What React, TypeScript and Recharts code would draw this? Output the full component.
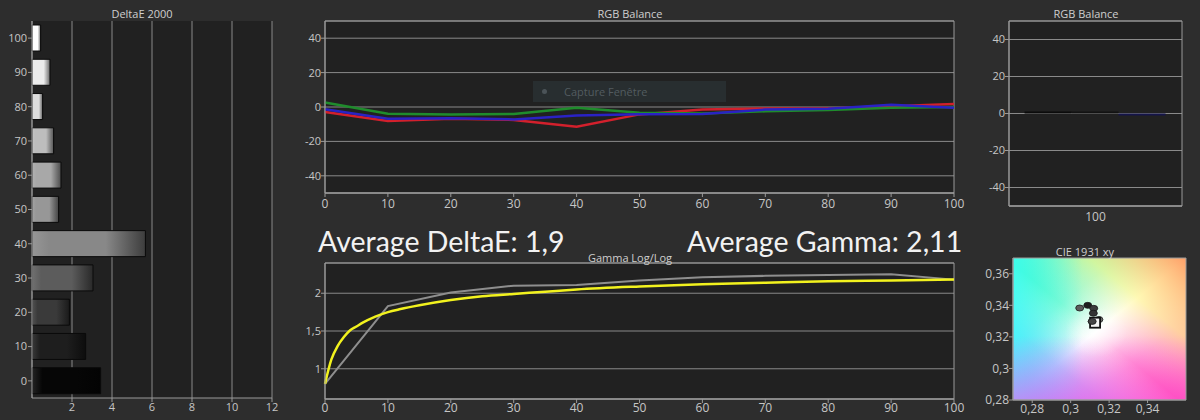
import React from 'react';
import {
  BarChart,
  Bar,
  Cell,
  LineChart,
  Line,
  ScatterChart,
  Scatter,
  XAxis,
  YAxis,
  CartesianGrid,
  ReferenceArea,
} from 'recharts';

// DeltaE 2000 per grey level (top to bottom)
const levels = ['100', '90', '80', '70', '60', '50', '40', '30', '20', '10', '0'];
const deltaE = [0.43, 0.9, 0.53, 1.08, 1.45, 1.33, 5.67, 3.05, 1.87, 2.68, 3.43];
const patchGray = ['#ffffff', '#ececec', '#dcdcdc', '#bdbdbd', '#a8a8a8', '#979797', '#888888', '#5c5c5c', '#3a3a3a', '#1e1e1e', '#060606'];
const deltaTicks = [2, 4, 6, 8, 10, 12];

// RGB balance
const stimulus = [0, 10, 20, 30, 40, 50, 60, 70, 80, 90, 100];
const redBal = [-2.9, -8.2, -6.8, -7.5, -11.5, -4.3, -1.4, -0.8, -0.8, 0.5, 1.8];
const greenBal = [2.6, -3.9, -4.3, -4.0, -0.4, -3.3, -3.8, -2.5, -1.8, -0.5, 0];
const blueBal = [-1.3, -6.8, -6.5, -7.2, -4.9, -4.2, -4.0, -1.5, -1.0, 1.3, -0.5];
const balTicks = [-40, -20, 0, 20, 40];

// RGB balance at 100%
const whiteCat = ['100'];
const whiteR = [1.0];
const whiteG = [0.3];
const whiteB = [-0.8];

// Gamma
const gammaMeasured = [0.8, 1.83, 2.01, 2.1, 2.11, 2.17, 2.21, 2.23, 2.24, 2.25, 2.18];
const gammaCurveX = [0, 1, 2, 3, 4, 5, 6, 8, 10, 12, 15, 20, 25, 30, 35, 40, 50, 60, 70, 80, 90, 100];
const gammaCurveY = [0.8, 1.12, 1.3, 1.42, 1.51, 1.56, 1.61, 1.69, 1.75, 1.79, 1.84, 1.91, 1.96, 1.99, 2.02, 2.05, 2.09, 2.12, 2.14, 2.16, 2.17, 2.18];
const gammaTicks = [1, 1.5, 2];

// CIE 1931 xy
const cieX = [0.3047, 0.3089, 0.312, 0.3118, 0.3147, 0.3112];
const cieY = [0.3383, 0.34, 0.3381, 0.335, 0.331, 0.3298];
const cieShade = ['#5c5c5c', '#1e1e1e', '#3c3c3c', '#333333', '#6a6a6a', '#444444'];
const targetX = [0.3127];
const targetY = [0.329];
const cieXTicks = [0.28, 0.3, 0.32, 0.34];
const cieYTicks = [0.28, 0.3, 0.32, 0.34, 0.36];

const font = "'Open Sans', 'Noto Sans', sans-serif";
const tickStyle = { fill: '#c6c6c6', fontSize: 11, fontFamily: font };
const axisColor = '#9a9a9a';
const gridColor = '#8a8a8a';
const plotBg = '#212121';

const comma = (v: number) => String(v).replace('.', ',');

function shade(hex: string, f: number) {
  const n = parseInt(hex.slice(1), 16);
  const ch = [(n >> 16) & 255, (n >> 8) & 255, n & 255].map((c) => {
    const v = f >= 0 ? c + (255 - c) * f : c * (1 + f);
    return Math.round(Math.max(0, Math.min(255, v)));
  });
  return '#' + ch.map((c) => c.toString(16).padStart(2, '0')).join('');
}

const deltaData = levels.map((level, i) => ({ level, de: deltaE[i] }));
const balData = stimulus.map((x, i) => ({ x, r: redBal[i], g: greenBal[i], b: blueBal[i] }));
const whiteData = whiteCat.map((cat, i) => ({ cat, r: whiteR[i], g: whiteG[i], b: whiteB[i] }));
const gammaData = stimulus.map((x, i) => ({ x, y: gammaMeasured[i] }));
const gammaCurve = gammaCurveX.map((x, i) => ({ x, y: gammaCurveY[i] }));
const cieData = cieX.map((x, i) => ({ x, y: cieY[i], c: cieShade[i] }));
const targetData = targetX.map((x, i) => ({ x, y: targetY[i] }));

function Title({ text, cx, y }: { text: string; cx: number; y: number }) {
  return (
    <div
      style={{
        position: 'absolute',
        left: cx - 100,
        top: y - 8,
        width: 200,
        textAlign: 'center',
        color: '#cfcfcf',
        fontSize: 11,
        fontFamily: font,
        lineHeight: '16px',
      }}
    >
      {text}
    </div>
  );
}

const Dot = (props: any) => {
  const { cx, cy, payload } = props;
  return <ellipse cx={cx} cy={cy} rx={4} ry={3} fill={payload.c} stroke="#1a1a1a" strokeWidth={0.8} />;
};

const Target = (props: any) => {
  const { cx, cy } = props;
  return <rect x={cx - 5} y={cy - 5} width={10} height={10} fill="#f4f4f4" stroke="#111" strokeWidth={1.8} />;
};

const bigText = {
  position: 'absolute' as const,
  top: 225,
  color: '#f2f2f2',
  fontSize: 28.5,
  lineHeight: '32px',
  fontFamily: "Lato, 'Open Sans', sans-serif",
  whiteSpace: 'nowrap' as const,
};

export default function App() {
  return (
    <div
      style={{
        position: 'absolute',
        left: 0,
        top: 0,
        width: 1200,
        height: 420,
        background: '#2d2d2d',
        overflow: 'hidden',
        fontFamily: font,
      }}
    >
      {/* DeltaE 2000 */}
      <div style={{ position: 'absolute', left: 0, top: 0 }}>
        <BarChart
          width={290}
          height={420}
          data={deltaData}
          layout="vertical"
          margin={{ top: 21, right: 18, bottom: 0, left: 0 }}
          barSize={26}
        >
          <defs>
            {patchGray.map((c, i) => (
              <linearGradient key={i} id={`de${i}`} x1="0" y1="0" x2="1" y2="0">
                <stop offset="0" stopColor={shade(c, 0.12)} />
                <stop offset="0.15" stopColor={c} />
                <stop offset="0.65" stopColor={c} />
                <stop offset="1" stopColor={shade(c, -0.55)} />
              </linearGradient>
            ))}
          </defs>
          <CartesianGrid horizontal={false} vertical stroke={gridColor} fill={plotBg} />
          <XAxis
            type="number"
            domain={[0, 12]}
            ticks={deltaTicks}
            height={22}
            tick={tickStyle}
            tickSize={4}
            tickMargin={1}
            stroke={axisColor}
            interval={0}
          />
          <YAxis
            type="category"
            dataKey="level"
            width={32}
            tick={tickStyle}
            tickSize={4}
            tickMargin={1}
            stroke={axisColor}
            interval={0}
          />
          <Bar dataKey="de" isAnimationActive={false} stroke="#0a0a0a" strokeWidth={1}>
            {deltaData.map((d, i) => (
              <Cell key={d.level} fill={`url(#de${i})`} />
            ))}
          </Bar>
        </BarChart>
      </div>
      <Title text="DeltaE 2000" cx={142} y={14} />

      {/* RGB Balance */}
      <div style={{ position: 'absolute', left: 290, top: 0 }}>
        <LineChart width={680} height={220} data={balData} margin={{ top: 21, right: 16, bottom: 0, left: 0 }}>
          <CartesianGrid vertical={false} stroke={gridColor} fill={plotBg} />
          <ReferenceArea x1={0} x2={100} y1={-50} y2={50} fill="none" stroke={axisColor} strokeWidth={1} />
          <XAxis
            type="number"
            dataKey="x"
            domain={[0, 100]}
            ticks={stimulus}
            height={27}
            tick={{ ...tickStyle, fontSize: 12 }}
            tickSize={4}
            tickMargin={2}
            stroke={axisColor}
            interval={0}
          />
          <YAxis
            domain={[-50, 50]}
            ticks={balTicks}
            width={35}
            tick={tickStyle}
            tickSize={4}
            tickMargin={0}
            stroke={axisColor}
            interval={0}
          />
          <Line dataKey="r" stroke="#d3202c" strokeWidth={2.5} dot={false} isAnimationActive={false} />
          <Line dataKey="g" stroke="#1f8c2c" strokeWidth={2.5} dot={false} isAnimationActive={false} />
          <Line dataKey="b" stroke="#2a22c4" strokeWidth={2.5} dot={false} isAnimationActive={false} />
        </LineChart>
      </div>
      <Title text="RGB Balance" cx={630} y={14} />

      {/* screenshot tooltip remnant */}
      <div
        style={{
          position: 'absolute',
          left: 533,
          top: 81,
          width: 193,
          height: 21,
          background: 'rgba(48, 58, 62, 0.55)',
          color: 'rgba(120, 132, 138, 0.55)',
          fontSize: 11,
          lineHeight: '21px',
          fontFamily: font,
        }}
      >
        <span
          style={{
            position: 'absolute',
            left: 9,
            top: 8,
            width: 5,
            height: 5,
            borderRadius: 3,
            background: 'rgba(90, 100, 105, 0.7)',
          }}
        />
        <span style={{ position: 'absolute', left: 31 }}>Capture Fenêtre</span>
      </div>

      {/* RGB Balance at 100 */}
      <div style={{ position: 'absolute', left: 970, top: 0 }}>
        <BarChart
          width={230}
          height={226}
          data={whiteData}
          margin={{ top: 21, right: 18, bottom: 0, left: 0 }}
          barCategoryGap="9%"
          barGap={0}
        >
          <CartesianGrid vertical={false} stroke={gridColor} fill={plotBg} />
          <XAxis
            dataKey="cat"
            height={20}
            tick={{ ...tickStyle, fontSize: 12 }}
            tickLine={false}
            tickMargin={0}
            stroke={axisColor}
          />
          <YAxis
            domain={[-50, 50]}
            ticks={balTicks}
            width={39}
            tick={tickStyle}
            tickSize={4}
            tickMargin={0}
            stroke={axisColor}
            interval={0}
          />
          <ReferenceArea x1="100" x2="100" y1={-50} y2={50} fill="none" stroke={axisColor} />
          <Bar dataKey="r" fill="#0b0b0b" isAnimationActive={false} minPointSize={2} />
          <Bar dataKey="g" fill="#121212" isAnimationActive={false} minPointSize={2} />
          <Bar dataKey="b" fill="#15154a" isAnimationActive={false} minPointSize={2} />
        </BarChart>
      </div>
      <Title text="RGB Balance" cx={1086} y={14} />

      {/* Averages */}
      <div style={{ ...bigText, left: 318 }}>Average DeltaE: 1,9</div>
      <div style={{ ...bigText, left: 687 }}>Average Gamma: 2,11</div>

      {/* Gamma Log/Log */}
      <div style={{ position: 'absolute', left: 290, top: 220 }}>
        <LineChart width={680} height={200} margin={{ top: 43, right: 16, bottom: 0, left: 0 }}>
          <CartesianGrid vertical={false} stroke={gridColor} fill={plotBg} />
          <ReferenceArea x1={0} x2={100} y1={0.6} y2={2.4} fill="none" stroke={axisColor} strokeWidth={1} />
          <XAxis
            type="number"
            dataKey="x"
            domain={[0, 100]}
            ticks={stimulus}
            height={21}
            tick={{ ...tickStyle, fontSize: 12 }}
            tickSize={4}
            tickMargin={0}
            stroke={axisColor}
            interval={0}
            allowDuplicatedCategory={false}
          />
          <YAxis
            type="number"
            dataKey="y"
            domain={[0.6, 2.4]}
            ticks={gammaTicks}
            tickFormatter={comma}
            width={35}
            tick={tickStyle}
            tickSize={4}
            tickMargin={0}
            stroke={axisColor}
            interval={0}
          />
          <Line data={gammaData} dataKey="y" stroke="#8e8e8e" strokeWidth={2} dot={false} isAnimationActive={false} />
          <Line
            data={gammaCurve}
            dataKey="y"
            type="monotone"
            stroke="#f2f21e"
            strokeWidth={2.5}
            dot={false}
            isAnimationActive={false}
          />
        </LineChart>
      </div>
      <Title text="Gamma Log/Log" cx={630} y={258} />

      {/* CIE 1931 xy */}
      <div style={{ position: 'absolute', left: 970, top: 220 }}>
        <ScatterChart width={230} height={200} margin={{ top: 38, right: 14, bottom: 0, left: 0 }}>
          <defs>
            <linearGradient id="cieA" x1="0" y1="0" x2="1" y2="1">
              <stop offset="0" stopColor="#2cf098" />
              <stop offset="0.3" stopColor="#8af8cc" />
              <stop offset="0.5" stopColor="#ffffff" />
              <stop offset="0.72" stopColor="#ff92c8" />
              <stop offset="1" stopColor="#ff3080" />
            </linearGradient>
            <linearGradient id="cieB" x1="0" y1="1" x2="1" y2="0">
              <stop offset="0" stopColor="#5a78ff" stopOpacity={1} />
              <stop offset="0.25" stopColor="#80a8ff" stopOpacity={0.55} />
              <stop offset="0.48" stopColor="#ffffff" stopOpacity={0} />
              <stop offset="0.72" stopColor="#fff58c" stopOpacity={0.65} />
              <stop offset="1" stopColor="#ff9a60" stopOpacity={0.95} />
            </linearGradient>
            <linearGradient id="cieC" x1="0" y1="0" x2="1" y2="0">
              <stop offset="0" stopColor="#40ffff" stopOpacity={0.8} />
              <stop offset="0.4" stopColor="#40ffff" stopOpacity={0} />
              <stop offset="1" stopColor="#ff55aa" stopOpacity={0} />
            </linearGradient>
            <linearGradient id="cieE" x1="0" y1="0" x2="0" y2="1">
              <stop offset="0" stopColor="#ff60ff" stopOpacity={0} />
              <stop offset="0.55" stopColor="#ff60ff" stopOpacity={0} />
              <stop offset="1" stopColor="#ff60f0" stopOpacity={0.6} />
            </linearGradient>
            <radialGradient id="cieD" cx="0.48" cy="0.52" r="0.18">
              <stop offset="0" stopColor="#ffffff" stopOpacity={0.5} />
              <stop offset="1" stopColor="#ffffff" stopOpacity={0} />
            </radialGradient>
          </defs>
          <ReferenceArea x1={0.27} x2={0.36} y1={0.28} y2={0.37} fill="url(#cieA)" fillOpacity={1} />
          <ReferenceArea x1={0.27} x2={0.36} y1={0.28} y2={0.37} fill="url(#cieB)" fillOpacity={1} />
          <ReferenceArea x1={0.27} x2={0.36} y1={0.28} y2={0.37} fill="url(#cieC)" fillOpacity={1} />
          <ReferenceArea x1={0.27} x2={0.36} y1={0.28} y2={0.37} fill="url(#cieE)" fillOpacity={1} />
          <ReferenceArea x1={0.27} x2={0.36} y1={0.28} y2={0.37} fill="url(#cieD)" fillOpacity={1} />
          <ReferenceArea x1={0.27} x2={0.36} y1={0.28} y2={0.37} fill="none" stroke={axisColor} />
          <XAxis
            type="number"
            dataKey="x"
            domain={[0.27, 0.36]}
            ticks={cieXTicks}
            tickFormatter={comma}
            height={20}
            tick={{ ...tickStyle, fontSize: 12 }}
            tickSize={3}
            tickMargin={1}
            stroke={axisColor}
            interval={0}
          />
          <YAxis
            type="number"
            dataKey="y"
            domain={[0.28, 0.37]}
            ticks={cieYTicks}
            tickFormatter={comma}
            width={43}
            tick={{ ...tickStyle, fontSize: 12 }}
            tickSize={4}
            tickMargin={0}
            stroke={axisColor}
            interval={0}
          />
          <Scatter data={cieData} shape={Dot} isAnimationActive={false} />
          <Scatter data={targetData} shape={Target} isAnimationActive={false} />
          <Scatter data={cieData.slice(5)} shape={Dot} isAnimationActive={false} />
        </ScatterChart>
      </div>
      <Title text="CIE 1931 xy" cx={1085} y={252} />
    </div>
  );
}
